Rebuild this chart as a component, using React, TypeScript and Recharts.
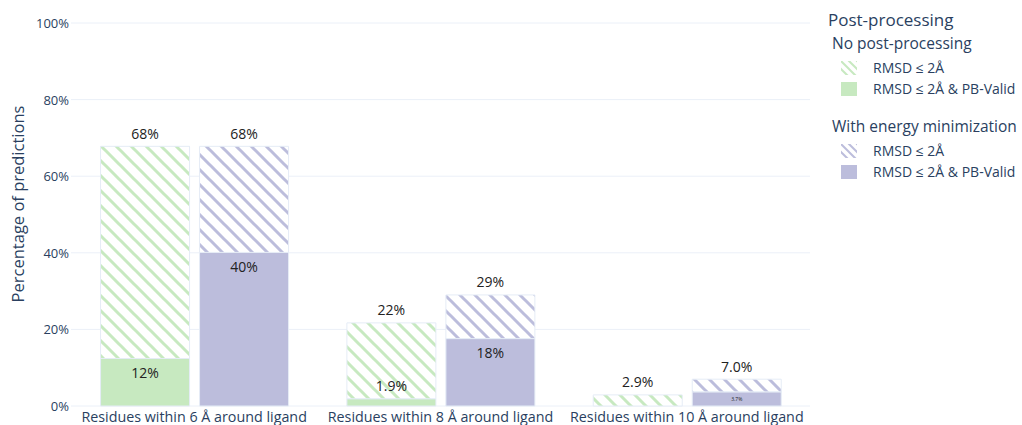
import React from "react";
import { BarChart, Bar, XAxis, YAxis, CartesianGrid, LabelList } from "recharts";

const categories = [
  "Residues within 6 Å around ligand",
  "Residues within 8 Å around ligand",
  "Residues within 10 Å around ligand",
];
const noPostRmsd = [67.8, 21.7, 2.9];
const noPostValid = [12.4, 1.9, 0];
const energyMinRmsd = [67.8, 29.0, 7.0];
const energyMinValid = [40.1, 17.6, 3.7];
const yTicks = [0, 20, 40, 60, 80, 100];

const GREEN = "#c7e9c0";
const PURPLE = "#bcbddc";
const FONT = "'Open Sans', verdana, arial, sans-serif";
const AXIS_COLOR = "#2a3f5f";

const data = categories.map((c, i) => ({
  category: c,
  npValid: noPostValid[i],
  npRest: noPostRmsd[i] - noPostValid[i],
  npTotal: noPostRmsd[i],
  emValid: energyMinValid[i],
  emRest: energyMinRmsd[i] - energyMinValid[i],
  emTotal: energyMinRmsd[i],
}));

const fmt = (v: number) => `${v.toPrecision(2)}%`;

const TotalLabel = (key: string) => (props: any) => {
  const { x, y, width, index } = props;
  const v = (data[index] as any)[key];
  return (
    <text x={x + width / 2} y={y - 13} textAnchor="middle" dominantBaseline="central" fontFamily={FONT} fontSize={14} fill="#222">
      {fmt(v)}
    </text>
  );
};

const ValidLabel = (key: string) => (props: any) => {
  const { x, y, width, height, index } = props;
  const v = (data[index] as any)[key];
  if (!v) return null;
  if (height >= 24) {
    return (
      <text x={x + width / 2} y={y + 14} textAnchor="middle" dominantBaseline="central" fontFamily={FONT} fontSize={14} fill="#222">
        {fmt(v)}
      </text>
    );
  }
  if (height >= 10) {
    return (
      <text x={x + width / 2} y={y + height / 2} textAnchor="middle" dominantBaseline="central" fontFamily={FONT} fontSize={5} fill="#222">
        {fmt(v)}
      </text>
    );
  }
  return (
    <text x={x + width / 2} y={y - 13} textAnchor="middle" dominantBaseline="central" fontFamily={FONT} fontSize={14} fill="#222">
      {fmt(v)}
    </text>
  );
};

const YTick = (props: any) => {
  const { x, y, payload } = props;
  return (
    <text x={x + 6} y={y} textAnchor="end" dominantBaseline="central" fontFamily={FONT} fontSize={13} fill={AXIS_COLOR}>
      {`${payload.value}%`}
    </text>
  );
};

const XTick = (props: any) => {
  const { x, y, payload } = props;
  return (
    <text x={x} y={y + 2} textAnchor="middle" dominantBaseline="central" fontFamily={FONT} fontSize={14.3} fill={AXIS_COLOR}>
      {payload.value}
    </text>
  );
};

const HatchIcon = ({ color, id }: { color: string; id: string }) => (
  <svg width={16} height={14} style={{ display: "block" }}>
    <defs>
      <pattern id={id} patternUnits="userSpaceOnUse" width={8} height={8}>
        <rect width={8} height={8} fill="white" />
        <path d="M-2,-2 L10,10 M-2,6 L2,10 M6,-2 L10,2" stroke={color} strokeWidth={2} />
      </pattern>
    </defs>
    <rect x={0} y={0} width={16} height={14} fill={`url(#${id})`} />
  </svg>
);

const SolidIcon = ({ color }: { color: string }) => (
  <svg width={16} height={14} style={{ display: "block" }}>
    <rect x={0} y={0} width={16} height={14} fill={color} />
  </svg>
);

const LegendText = ({ left, cy, size, children }: { left: number; cy: number; size: number; children: React.ReactNode }) => (
  <div
    style={{
      position: "absolute",
      left,
      top: cy - 10,
      height: 20,
      display: "flex",
      alignItems: "center",
      fontFamily: FONT,
      fontSize: size,
      color: AXIS_COLOR,
      whiteSpace: "nowrap",
      lineHeight: 1,
    }}
  >
    {children}
  </div>
);

const LegendItem = ({ cy, icon, label }: { cy: number; icon: React.ReactNode; label: string }) => (
  <>
    <div style={{ position: "absolute", left: 841, top: cy - 7 }}>{icon}</div>
    <LegendText left={873} cy={cy} size={14}>{label}</LegendText>
  </>
);

export default function App() {
  return (
    <div style={{ position: "absolute", left: 0, top: 0, width: 1022, height: 425, background: "white", overflow: "hidden" }}>
      <BarChart
        width={1022}
        height={425}
        data={data}
        margin={{ top: 23, right: 212, bottom: 0, left: 0 }}
        barCategoryGap="12%"
        barGap={10}
      >
        <defs>
          <pattern id="hatchGreen" patternUnits="userSpaceOnUse" width={15} height={15}>
            <rect width={15} height={15} fill="white" />
            <path d="M-3,-3 L18,18 M-3,12 L3,18 M12,-3 L18,3" stroke={GREEN} strokeWidth={3} />
          </pattern>
          <pattern id="hatchPurple" patternUnits="userSpaceOnUse" width={15} height={15}>
            <rect width={15} height={15} fill="white" />
            <path d="M-3,-3 L18,18 M-3,12 L3,18 M12,-3 L18,3" stroke={PURPLE} strokeWidth={3} />
          </pattern>
        </defs>
        <CartesianGrid vertical={false} stroke="#EBF0F8" strokeWidth={1} />
        <XAxis
          dataKey="category"
          axisLine={false}
          tickLine={false}
          height={19}
          tick={<XTick />}
          interval={0}
        />
        <YAxis
          domain={[0, 100]}
          ticks={yTicks}
          axisLine={false}
          tickLine={false}
          width={71}
          tick={<YTick />}
          interval={0}
        />
        <Bar dataKey="npValid" stackId="np" fill={GREEN} stroke="#E5ECF6" strokeWidth={1} isAnimationActive={false}>
          <LabelList dataKey="npValid" content={ValidLabel("npValid")} />
        </Bar>
        <Bar dataKey="npRest" stackId="np" fill="url(#hatchGreen)" stroke="#E5ECF6" strokeWidth={1} isAnimationActive={false}>
          <LabelList dataKey="npTotal" content={TotalLabel("npTotal")} />
        </Bar>
        <Bar dataKey="emValid" stackId="em" fill={PURPLE} stroke="#E5ECF6" strokeWidth={1} isAnimationActive={false}>
          <LabelList dataKey="emValid" content={ValidLabel("emValid")} />
        </Bar>
        <Bar dataKey="emRest" stackId="em" fill="url(#hatchPurple)" stroke="#E5ECF6" strokeWidth={1} isAnimationActive={false}>
          <LabelList dataKey="emTotal" content={TotalLabel("emTotal")} />
        </Bar>
      </BarChart>
      <div
        style={{
          position: "absolute",
          left: 7,
          top: 204,
          transform: "translate(0, -50%) rotate(-90deg)",
          transformOrigin: "center",
          width: 20,
          display: "flex",
          justifyContent: "center",
        }}
      >
        <div style={{ fontFamily: FONT, fontSize: 16.5, color: AXIS_COLOR, whiteSpace: "nowrap" }}>Percentage of predictions</div>
      </div>
      <LegendText left={828} cy={19} size={17}>Post-processing</LegendText>
      <LegendText left={832} cy={44} size={15.5}>No post-processing</LegendText>
      <LegendItem cy={68} icon={<HatchIcon color={GREEN} id="lgG" />} label="RMSD ≤ 2Å" />
      <LegendItem cy={89} icon={<SolidIcon color={GREEN} />} label="RMSD ≤ 2Å & PB-Valid" />
      <LegendText left={832} cy={127} size={15.5}>With energy minimization</LegendText>
      <LegendItem cy={151} icon={<HatchIcon color={PURPLE} id="lgP" />} label="RMSD ≤ 2Å" />
      <LegendItem cy={172} icon={<SolidIcon color={PURPLE} />} label="RMSD ≤ 2Å & PB-Valid" />
    </div>
  );
}
